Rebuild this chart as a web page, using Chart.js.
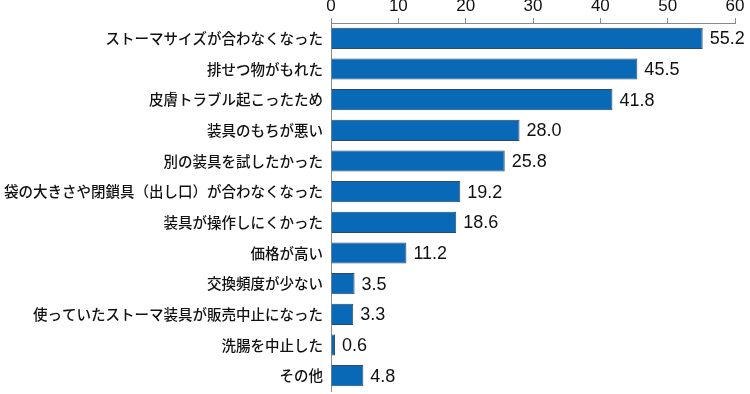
<!DOCTYPE html>
<html>
<head>
<meta charset="utf-8">
<script src="https://cdn.jsdelivr.net/npm/chart.js@4/dist/chart.umd.min.js"></script>
<style>
  html, body { margin: 0; padding: 0; background: #fff; overflow: hidden; }
  canvas { display: block; }
</style>
</head>
<body>
<canvas id="chart" width="750" height="394"></canvas>
<script>
// 回答項目
const categories = [
    'ストーマサイズが合わなくなった',
    '排せつ物がもれた',
    '皮膚トラブル起こったため',
    '装具のもちが悪い',
    '別の装具を試したかった',
    '袋の大きさや閉鎖具（出し口）が合わなくなった',
    '装具が操作しにくかった',
    '価格が高い',
    '交換頻度が少ない',
    '使っていたストーマ装具が販売中止になった',
    '洗腸を中止した',
    'その他'
];

// 割合（%）
const values = [55.2, 45.5, 41.8, 28.0, 25.8, 19.2, 18.6, 11.2, 3.5, 3.3, 0.6, 4.8];

// 横軸の目盛り
const tickValues = [0, 10, 20, 30, 40, 50, 60];

// バーの右に数値を表示
const valueLabels = {
    id: 'valueLabels',
    afterDatasetsDraw(chart) {
        const ctx = chart.ctx;
        const meta = chart.getDatasetMeta(0);
        ctx.save();
        ctx.fillStyle = '#111';
        ctx.font = '18px "Liberation Sans", Arial, sans-serif';
        ctx.textAlign = 'left';
        ctx.textBaseline = 'middle';
        meta.data.forEach((bar, i) => {
            ctx.fillText(values[i].toFixed(1), bar.x + 7, bar.y + 1);
        });
        ctx.restore();
    }
};

const ctx = document.getElementById('chart').getContext('2d');
new Chart(ctx, {
    type: 'bar',
    data: {
        labels: categories,
        datasets: [{
            data: values,
            backgroundColor: '#0a69b6',
            borderColor: '#2b4a6e',
            borderWidth: 1,
            categoryPercentage: 1,
            barPercentage: 0.69
        }]
    },
    options: {
        indexAxis: 'y',
        responsive: false,
        animation: false,
        layout: {
            padding: { left: 0, right: 15, top: 0, bottom: 3 }
        },
        plugins: {
            legend: { display: false },
            tooltip: { enabled: false }
        },
        scales: {
            x: {
                position: 'top',
                min: 0,
                max: 60,
                afterBuildTicks(scale) {
                    scale.ticks = tickValues.map(v => ({ value: v }));
                },
                afterFit(scale) {
                    scale.height = 23;
                },
                border: { display: true, color: '#8a8a8a', width: 1 },
                grid: {
                    drawOnChartArea: false,
                    drawTicks: true,
                    tickLength: 5,
                    color: '#8a8a8a'
                },
                ticks: {
                    padding: 1,
                    color: '#111',
                    font: { family: '"Liberation Sans", Arial, sans-serif', size: 17 }
                }
            },
            y: {
                afterFit(scale) {
                    scale.width = 331;
                    // ラベル分の余白を消して下端まで使う
                    scale.paddingTop = 0;
                    scale.paddingBottom = 0;
                },
                border: { display: true, color: '#8a8a8a', width: 1 },
                grid: { display: false, drawTicks: false },
                ticks: {
                    padding: 8,
                    color: '#111',
                    autoSkip: false,
                    font: { family: '"Noto Sans CJK JP", sans-serif', size: 14.5, weight: 500 }
                }
            }
        }
    },
    plugins: [valueLabels]
});
</script>
</body>
</html>
